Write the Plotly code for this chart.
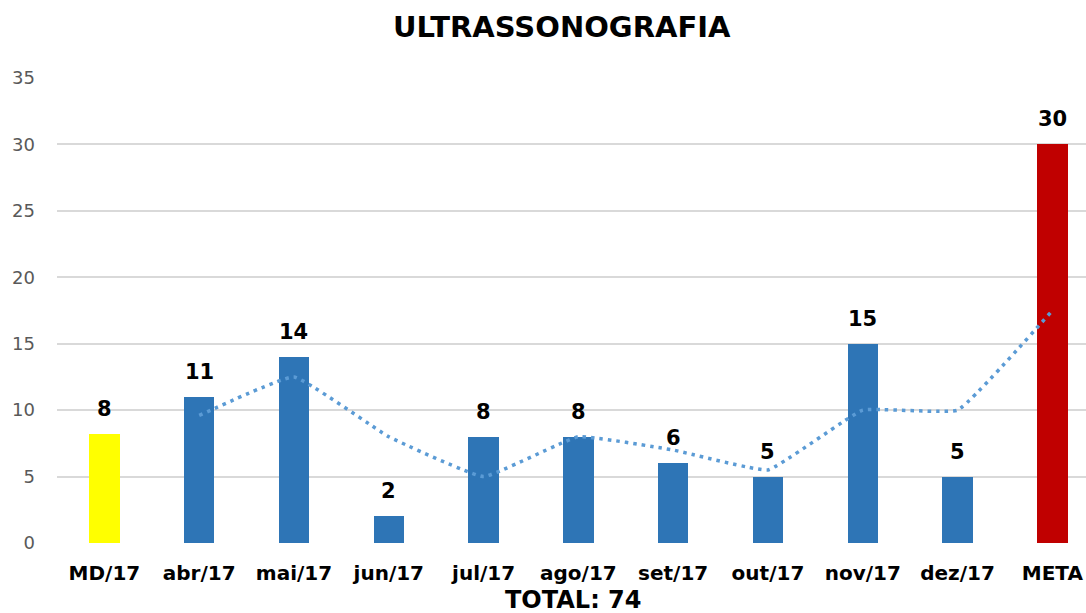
import plotly.graph_objects as go
import pandas as pd

# Exam counts per month
categories = ["MD/17", "abr/17", "mai/17", "jun/17", "jul/17", "ago/17",
              "set/17", "out/17", "nov/17", "dez/17", "META"]
values = [8.2, 11, 14, 2, 8, 8, 6, 5, 15, 5, 30]
bar_colors = ["#FFFF00"] + ["#2E75B6"] * 9 + ["#C00000"]
title_text = "ULTRASSONOGRAFIA"
total_text = "TOTAL: 74"

# Two-period moving average trendline (starts at the second category)
moving_avg = pd.Series(values).rolling(2).mean()

FONT = "DejaVu Sans"

fig = go.Figure()
fig.add_trace(go.Bar(
    x=categories, y=values,
    marker=dict(color=bar_colors, line=dict(width=0)),
    width=0.32,
    hoverinfo="skip", showlegend=False,
))
fig.add_trace(go.Scatter(
    x=categories[1:], y=moving_avg.iloc[1:].tolist(),
    mode="lines",
    line=dict(color="#5B9BD5", width=3.5, dash="3.5px,5px", shape="spline", smoothing=0.3),
    hoverinfo="skip", showlegend=False,
))

# Value labels above each bar
annotations = [
    dict(x=c, y=v, xref="x", yref="y", text="<b>%d</b>" % round(v),
         showarrow=False, yanchor="middle", yshift=25,
         font=dict(family=FONT, size=21, color="#000000"))
    for c, v in zip(categories, values)
]
annotations += [
    dict(text="<b>" + title_text + "</b>", xref="paper", yref="paper",
         x=(562 - 57) / (1086 - 57), y=1, yanchor="middle", yshift=51,
         showarrow=False, font=dict(family=FONT, size=29, color="#000000")),
    dict(text="<b>" + total_text + "</b>", xref="paper", yref="paper",
         x=(573 - 57) / (1086 - 57), y=0, yanchor="middle", yshift=-57,
         showarrow=False, font=dict(family=FONT, size=24, color="#000000")),
]

fig.update_layout(
    width=1086, height=613,
    margin=dict(l=57, r=0, t=78, b=70),
    paper_bgcolor="white", plot_bgcolor="white",
    bargap=0,
    font=dict(family=FONT),
    xaxis=dict(
        range=[-0.5, 10.355],
        showgrid=False, zeroline=False, showline=False, ticks="",
        tickfont=dict(family=FONT, size=20, color="#000000", weight="bold"),
        ticklabelstandoff=16,
    ),
    yaxis=dict(
        range=[0, 35], dtick=5,
        showgrid=True, gridcolor="#D9D9D9", gridwidth=1.5,
        zeroline=False, showline=False, ticks="",
        tickfont=dict(family=FONT, size=18, color="#595959"),
        ticklabelstandoff=21,
    ),
    annotations=annotations,
)

fig.write_html("out.html")
